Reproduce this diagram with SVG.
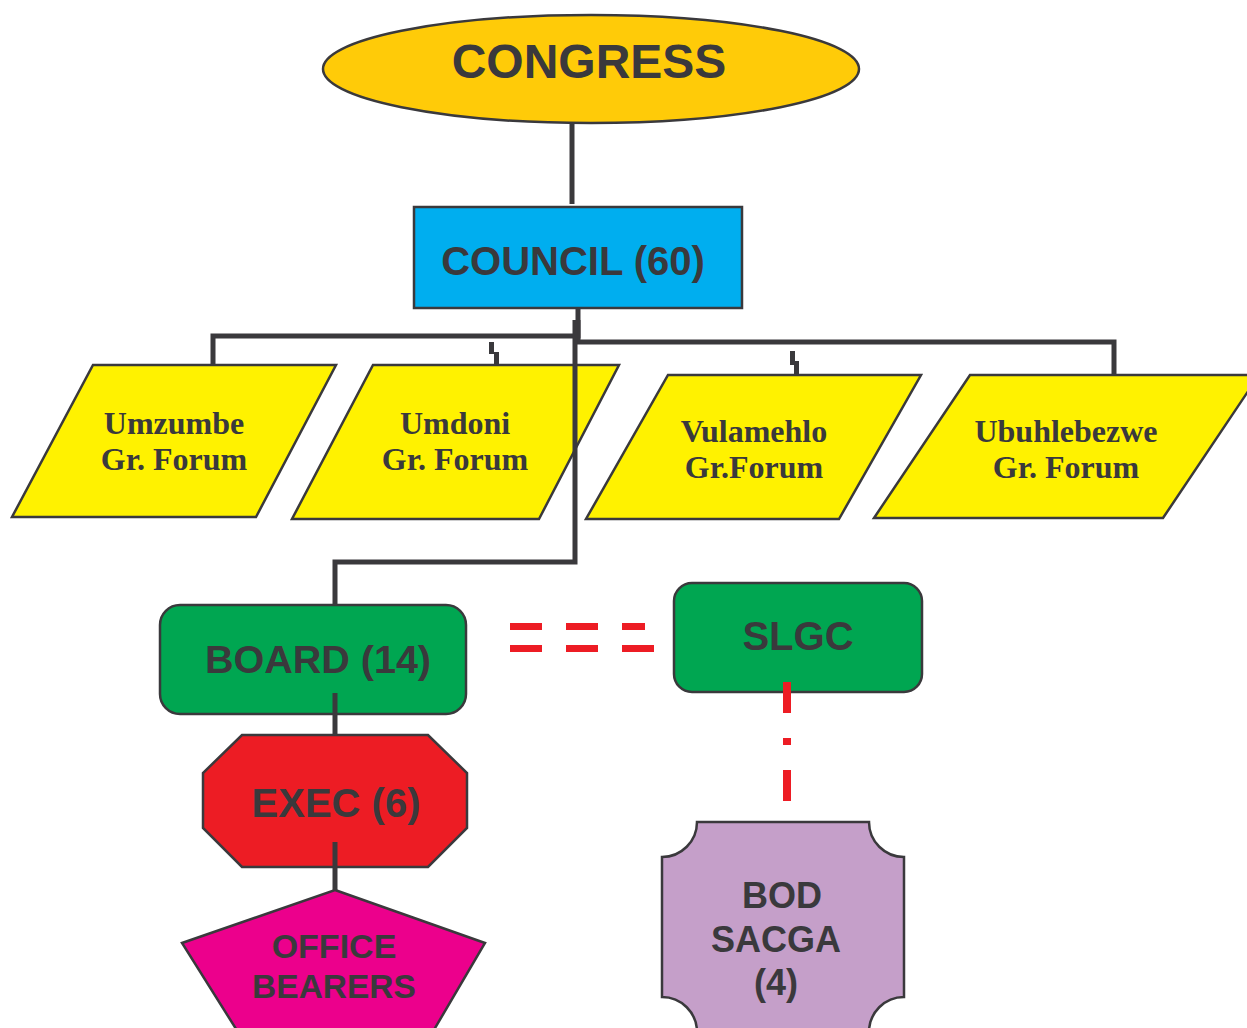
<svg xmlns="http://www.w3.org/2000/svg" width="1247" height="1028" viewBox="0 0 1247 1028">
<style>
.o{stroke:#3a393c;stroke-width:2.5}
.t{font-family:"Liberation Sans",Arial,sans-serif;font-weight:bold;fill:#3a393c;text-anchor:middle}
.s{font-family:"Liberation Serif","Times New Roman",serif;font-weight:bold;fill:#3a393c;text-anchor:middle;font-size:32px}
.c{fill:none;stroke:#3a393c;stroke-width:5}
.r{fill:#ED1C24}
</style>
<rect width="1247" height="1028" fill="#fff"/>
<g id="congress">
<ellipse class="o" cx="591" cy="69" rx="268" ry="54" fill="#FFCB08"/>
<text class="t" x="589" y="78" font-size="48">CONGRESS</text>
</g>
<g id="council">
<rect class="o" x="414" y="207" width="328" height="101" fill="#00AEEF"/>
<text class="t" x="573" y="275" font-size="40">COUNCIL (60)</text>
</g>
<g id="umzumbe">
<polygon class="o" points="93,365 336,365 256,517 12,517" fill="#FFF200"/>
<text class="s" x="174" y="434">Umzumbe</text><text class="s" x="174" y="470">Gr. Forum</text>
</g>
<g id="umdoni">
<polygon class="o" points="373,365 619,365 539,519 292,519" fill="#FFF200"/>
<text class="s" x="455" y="434">Umdoni</text><text class="s" x="455" y="470">Gr. Forum</text>
</g>
<g id="vulamehlo">
<polygon class="o" points="668,375 921,375 839,519 586,519" fill="#FFF200"/>
<text class="s" x="754" y="442">Vulamehlo</text><text class="s" x="754" y="478">Gr.Forum</text>
</g>
<g id="ubuhlebezwe">
<polygon class="o" points="970,375 1259,375 1163,518 874,518" fill="#FFF200"/>
<text class="s" x="1066" y="442">Ubuhlebezwe</text><text class="s" x="1066" y="478">Gr. Forum</text>
</g>
<g id="board">
<rect class="o" x="160" y="605" width="306" height="109" rx="20" fill="#00A651"/>
<text class="t" x="318" y="673" font-size="39.5">BOARD (14)</text>
</g>
<g id="slgc">
<rect class="o" x="674" y="583" width="248" height="109" rx="18" fill="#00A651"/>
<text class="t" x="798" y="650" font-size="40">SLGC</text>
</g>
<g id="exec">
<polygon class="o" points="242,735 428,735 467,773 467,828 428,867 242,867 203,828 203,773" fill="#ED1C24"/>
<text class="t" x="336" y="817" font-size="40">EXEC (6)</text>
</g>
<g id="office">
<polygon class="o" points="335,890 485,943 428,1040 243,1040 182,943" fill="#EC008C"/>
<text class="t" x="334" y="958" font-size="34">OFFICE</text>
<text class="t" x="334" y="998" font-size="33.5">BEARERS</text>
</g>
<g id="bod">
<path class="o" fill="#C59FC9" d="M697,822H869A35,35 0 0 0 904,857V997A35,35 0 0 0 869,1032H697A35,35 0 0 0 662,997V857A35,35 0 0 0 697,822Z"/>
<text class="t" x="782" y="908" font-size="36">BOD</text>
<text class="t" x="776" y="952" font-size="36">SACGA</text>
<text class="t" x="776" y="995" font-size="36">(4)</text>
</g>
<g id="connectors">
<line class="c" x1="572" y1="124" x2="572" y2="204" stroke-width="7"/>
<polyline class="c" points="578,309 578,336 213,336 213,364"/>
<polyline class="c" points="578,320 578,342 1114,342 1114,374"/>
<polyline class="c" points="575,320 575,562 335,562 335,604"/>
<path fill="#3a393c" d="M489,342h5v10h5v12h-5v-10h-5z"/>
<path fill="#3a393c" d="M790,351h5v10h4v14h-5v-10h-4z"/>
<line class="c" x1="335" y1="693" x2="335" y2="736"/>
<line class="c" x1="335" y1="842" x2="335" y2="890" stroke-width="7"/>
<g class="r">
<rect x="510" y="623" width="32" height="7"/><rect x="566" y="623" width="32" height="7"/><rect x="622" y="623" width="23" height="7"/>
<rect x="510" y="645" width="32" height="7"/><rect x="566" y="645" width="32" height="7"/><rect x="622" y="645" width="32" height="7"/>
<rect x="783" y="682" width="8" height="31"/><rect x="783" y="738" width="8" height="7"/><rect x="783" y="770" width="8" height="31"/>
</g>
</g>
</svg>
